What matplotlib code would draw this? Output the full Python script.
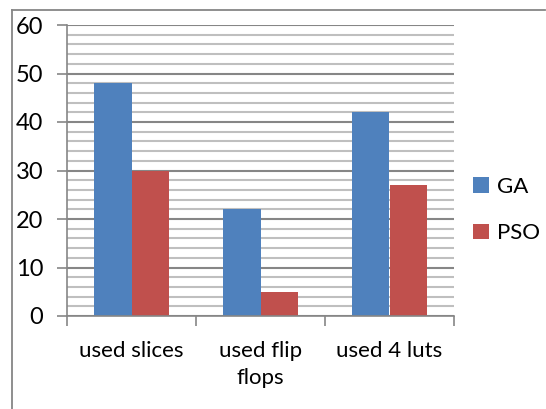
import matplotlib
matplotlib.use("Agg")
import matplotlib.pyplot as plt
import numpy as np
from matplotlib.lines import Line2D

categories = ["used slices", "used flip\nflops", "used 4 luts"]
ga_values = [48, 22, 42]
pso_values = [30, 5, 27]
series_names = ["GA", "PSO"]
y_ticks = [0, 10, 20, 30, 40, 50, 60]

GA_COLOR = "#4F81BD"
PSO_COLOR = "#C0504D"
AXIS_GREY = "#868686"
MINOR_GREY = "#BFBFBF"

plt.rcParams["font.family"] = ["Lato", "DejaVu Sans"]

fig = plt.figure(figsize=(5.46, 4.09), dpi=100)
ax = fig.add_axes([67 / 546, 1 - 316 / 409, (454 - 67) / 546, (316 - 25) / 409])

x = np.arange(len(categories))
width = 0.287
ax.bar(x - width / 2, ga_values, width, color=GA_COLOR, label=series_names[0], zorder=3)
ax.bar(x + width / 2, pso_values, width, color=PSO_COLOR, label=series_names[1], zorder=3)

ax.set_xlim(-0.5, 2.5)
ax.set_ylim(0, 60)
ax.set_yticks(y_ticks)
ax.set_yticks(np.arange(0, 61, 2), minor=True)
ax.yaxis.grid(True, which="minor", color=MINOR_GREY, linewidth=1.5, zorder=0)
ax.yaxis.grid(True, which="major", color=AXIS_GREY, linewidth=1.5, zorder=1)
ax.tick_params(axis="y", which="major", length=7, width=1.2, color=AXIS_GREY,
               labelsize=17, pad=10)
ax.tick_params(axis="y", which="minor", length=0)

ax.set_xticks(x)
ax.set_xticklabels(categories, fontsize=16, linespacing=1.45)
ax.set_xticks([-0.5, 0.5, 1.5, 2.5], minor=True)
ax.tick_params(axis="x", which="major", length=0, pad=18)
ax.tick_params(axis="x", which="minor", length=7, width=1.2, color=AXIS_GREY)
for lbl in ax.get_xticklabels():
    lbl.set_verticalalignment("top")

for side in ("top", "right"):
    ax.spines[side].set_visible(False)
for side in ("left", "bottom"):
    ax.spines[side].set_color(AXIS_GREY)
    ax.spines[side].set_linewidth(1.2)
    ax.spines[side].set_zorder(4)

leg = fig.legend(loc="center left", bbox_to_anchor=(453 / 546, 1 - 210 / 409),
                 frameon=False, fontsize=16, handlelength=0.7, handleheight=0.7,
                 handletextpad=0.4, labelspacing=1.2)

# outer chart border (only top and left edges visible)
fig.add_artist(Line2D([12 / 546, 545 / 546], [1 - 10 / 409, 1 - 10 / 409],
                      transform=fig.transFigure, color=AXIS_GREY, linewidth=1.3))
fig.add_artist(Line2D([12 / 546, 12 / 546], [0, 1 - 10 / 409],
                      transform=fig.transFigure, color=AXIS_GREY, linewidth=1.3))

fig.savefig("out.png", dpi=100)
